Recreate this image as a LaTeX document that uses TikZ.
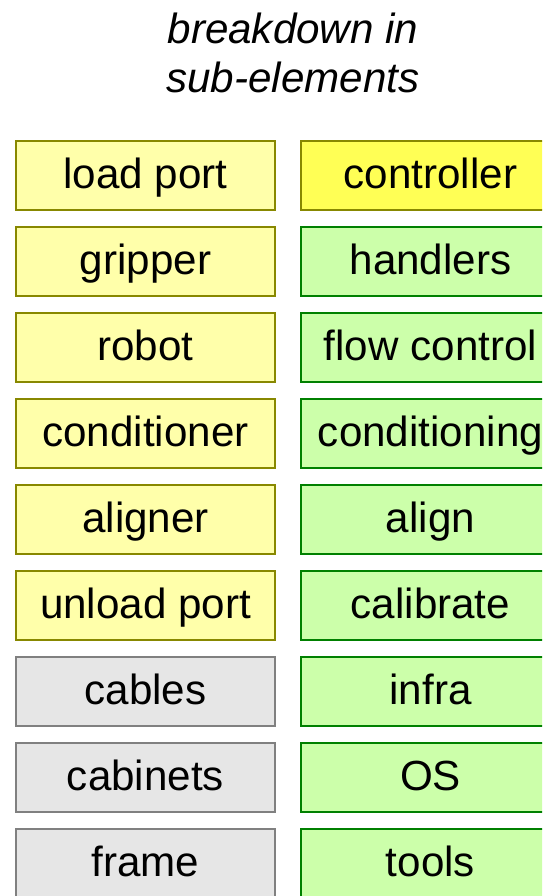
\documentclass[tikz,border=0pt]{standalone}
\usepackage{fontspec}
\setmainfont{Liberation Sans}
\usepackage{xcolor}
\usepackage{tikz}
\usetikzlibrary{positioning, calc}

\definecolor{hwfill}{RGB}{255,255,170}
\definecolor{hwdraw}{RGB}{136,136,0}
\definecolor{ctrlfill}{RGB}{255,255,85}
\definecolor{swfill}{RGB}{204,255,170}
\definecolor{swdraw}{RGB}{0,128,0}
\definecolor{infrafill}{RGB}{230,230,230}
\definecolor{infradraw}{RGB}{128,128,128}

\tikzset{
  elem/.style={rectangle, line width=1.1pt, minimum width=5.18cm, minimum height=1.38cm,
    inner sep=0pt, text height=17.3pt, text depth=2.4pt, font=\fontsize{24}{29}\selectfont},
  hwbox/.style={elem, fill=hwfill, draw=hwdraw},
  ctrlbox/.style={elem, fill=ctrlfill, draw=hwdraw},
  swbox/.style={elem, fill=swfill, draw=swdraw},
  infrabox/.style={elem, fill=infrafill, draw=infradraw},
  heading/.style={anchor=base, inner sep=0pt, font=\fontsize{24}{29}\selectfont\itshape}
}

\begin{document}
\begin{tikzpicture}[x=0.02cm, y=-0.02cm]
  \useasboundingbox (0, 0) rectangle (542, 896);
  \clip (0, 0) rectangle (542, 896);

  % title
  \node [heading] (title1) at (293, 43) {breakdown in};
  \node [heading] (title2) at (293, 92) {sub-elements};

  % hardware column
  \node [hwbox] (loadport) at (145.5, 175.5) {load port};
  \node [hwbox] (gripper) at (145.5, 261.5) {gripper};
  \node [hwbox] (robot) at (145.5, 347.5) {robot};
  \node [hwbox] (conditioner) at (145.5, 433.5) {conditioner};
  \node [hwbox] (aligner) at (145.5, 519.5) {aligner};
  \node [hwbox] (unloadport) at (145.5, 605.5) {unload port};
  \node [infrabox] (cables) at (145.5, 691.5) {cables};
  \node [infrabox] (cabinets) at (145.5, 777.5) {cabinets};
  \node [infrabox] (frame) at (145.5, 863.5) {frame};

  % software column
  \node [ctrlbox] (controller) at (430.5, 175.5) {controller};
  \node [swbox] (handlers) at (430.5, 261.5) {handlers};
  \node [swbox] (flowcontrol) at (430.5, 347.5) {flow control};
  \node [swbox] (conditioning) at (430.5, 433.5) {conditioning};
  \node [swbox] (align) at (430.5, 519.5) {align};
  \node [swbox] (calibrate) at (430.5, 605.5) {calibrate};
  \node [swbox] (infra) at (430.5, 691.5) {infra};
  \node [swbox] (os) at (430.5, 777.5) {OS};
  \node [swbox] (tools) at (430.5, 863.5) {tools};
\end{tikzpicture}
\end{document}
